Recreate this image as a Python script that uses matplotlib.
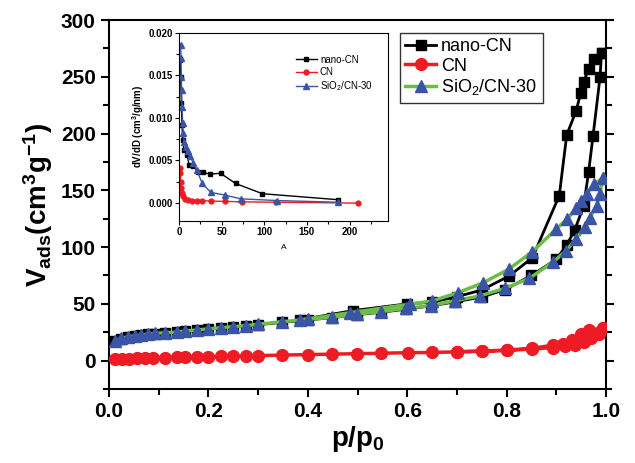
import matplotlib
matplotlib.use("Agg")
import matplotlib.pyplot as plt
from matplotlib.ticker import MultipleLocator

plt.rcParams["font.family"] = ["Liberation Sans", "DejaVu Sans"]
plt.rcParams["mathtext.fontset"] = "custom"
plt.rcParams["mathtext.rm"] = "Liberation Sans"
plt.rcParams["mathtext.bf"] = "Liberation Sans:bold"
plt.rcParams["mathtext.it"] = "Liberation Sans:italic"

RED = "#ed1c24"
BLUE = "#3a55a6"
GREEN = "#6cbd45"

# --- main isotherms (adsorption then desorption) ---
nano_ads_x = [0.012, 0.025, 0.038, 0.052, 0.065, 0.079, 0.093, 0.113, 0.136, 0.153,
              0.177, 0.200, 0.225, 0.250, 0.275, 0.300, 0.349, 0.400, 0.449, 0.498,
              0.548, 0.597, 0.647, 0.697, 0.750, 0.797, 0.850, 0.900, 0.921, 0.937,
              0.955, 0.965, 0.974, 0.988, 0.991]
nano_ads_y = [17.0, 19.2, 20.6, 21.4, 22.3, 23.1, 23.8, 24.4, 25.0, 25.8,
              26.8, 27.7, 28.7, 29.6, 30.5, 31.6, 33.8, 35.9, 37.8, 40.5,
              42.6, 45.3, 48.2, 51.8, 56.0, 62.5, 75.0, 89.2, 101.8, 115.0,
              136.0, 166.0, 198.0, 249.6, 270.7]
nano_des_x = [0.991, 0.975, 0.965, 0.955, 0.949, 0.940, 0.921, 0.906, 0.852, 0.805,
              0.750, 0.700, 0.650, 0.600, 0.490, 0.385]
nano_des_y = [270.7, 266.0, 256.6, 245.7, 235.5, 220.0, 198.8, 145.3, 90.7, 74.5,
              62.2, 56.3, 51.5, 50.0, 44.0, 36.0]

cn_ads_x = [0.012, 0.026, 0.041, 0.056, 0.072, 0.089, 0.113, 0.136, 0.153, 0.177,
            0.200, 0.225, 0.250, 0.275, 0.300, 0.349, 0.401, 0.449, 0.498, 0.548,
            0.602, 0.649, 0.700, 0.750, 0.800, 0.851, 0.893, 0.917, 0.937, 0.955,
            0.970, 0.985, 0.993]
cn_ads_y = [1.4, 1.6, 1.8, 2.0, 2.2, 2.4, 2.6, 2.9, 3.1, 3.3,
            3.5, 3.7, 4.0, 4.2, 4.4, 4.9, 5.3, 5.7, 6.1, 6.5,
            7.0, 7.2, 7.7, 8.2, 9.0, 10.2, 11.5, 12.5, 14.0, 16.5,
            19.5, 23.5, 28.8]
cn_des_x = [0.993, 0.966, 0.950, 0.931, 0.913, 0.893, 0.851, 0.800, 0.750, 0.700]
cn_des_y = [28.8, 26.8, 23.2, 18.6, 15.0, 13.6, 10.8, 9.3, 8.4, 7.9]

si_ads_x = [0.012, 0.025, 0.038, 0.052, 0.065, 0.079, 0.093, 0.113, 0.136, 0.153,
            0.177, 0.200, 0.225, 0.250, 0.275, 0.300, 0.349, 0.400, 0.449, 0.498,
            0.548, 0.597, 0.647, 0.697, 0.746, 0.797, 0.846, 0.894, 0.920, 0.939,
            0.958, 0.968, 0.981, 0.988, 0.993]
si_ads_y = [17.5, 19.6, 21.0, 21.7, 22.5, 23.4, 24.0, 24.6, 25.0, 26.0,
            27.0, 27.9, 29.0, 29.9, 30.8, 32.0, 34.3, 36.4, 38.1, 41.0,
            43.1, 46.0, 48.5, 52.8, 57.0, 63.7, 72.5, 87.0, 96.8, 106.9,
            118.0, 126.0, 136.0, 146.8, 160.6]
si_des_x = [0.993, 0.976, 0.961, 0.949, 0.940, 0.922, 0.900, 0.852, 0.804, 0.753,
            0.703, 0.650, 0.606, 0.485, 0.384]
si_des_y = [160.6, 155.6, 146.8, 140.9, 134.2, 124.8, 116.0, 96.0, 80.4, 68.6,
            60.0, 52.5, 49.8, 42.2, 35.8]

# --- inset: pore size distribution ---
nano_d = [1.2, 2.0, 2.7, 3.5, 4.3, 5.8, 9.0, 12.0, 16.8, 22.6, 28.5, 36.3, 48.7, 66.3, 97.9, 186.4]
nano_dv = [0.0168, 0.0148, 0.0117, 0.0092, 0.0074, 0.00625, 0.0057, 0.0045, 0.0043, 0.0037,
           0.0036, 0.0034, 0.0035, 0.0023, 0.0011, 0.0004]
cn_d = [1.2, 1.6, 2.0, 2.3, 3.1, 4.3, 7.0, 10.9, 14.8, 20.7, 27.3, 37.4, 53.8, 73.3, 113.5, 209.7]
cn_dv = [0.0041, 0.0035, 0.0025, 0.0018, 0.0012, 0.0008, 0.0005, 0.0004, 0.0003, 0.0003,
         0.0003, 0.00023, 0.0002, 0.00015, 0.0001, 0.0]
si_d = [2.0, 2.3, 2.7, 3.1, 3.5, 4.3, 5.0, 6.2, 7.8, 10.0, 12.9, 16.8, 20.7, 27.3, 37.4,
        53.8, 72.5, 115.0, 187.0]
si_dv = [0.0186, 0.0170, 0.0148, 0.0133, 0.0113, 0.0094, 0.0082, 0.0072, 0.0066, 0.0061,
         0.0055, 0.0047, 0.0039, 0.0023, 0.00125, 0.00094, 0.0005, 0.0003, 0.0001]

fig = plt.figure(figsize=(6.35, 4.63), dpi=100)
ax = fig.add_axes([0.1717, 0.1598, 0.7826, 0.797])

ax.plot(nano_ads_x + nano_des_x, nano_ads_y + nano_des_y, "-s", color="black",
        lw=2, ms=7, mfc="black", mec="black", label="nano-CN", zorder=3)
ax.plot(cn_ads_x + cn_des_x, cn_ads_y + cn_des_y, "-o", color=RED,
        lw=2.5, ms=8.5, mfc=RED, mec=RED, label="CN", zorder=3)
ax.plot(si_ads_x + si_des_x, si_ads_y + si_des_y, "-^", color=GREEN,
        lw=2.5, ms=9, mfc=BLUE, mec=BLUE, label="SiO$_2$/CN-30", zorder=4)

ax.set_xlim(0, 1.0)
ax.set_ylim(-25, 300)
ax.xaxis.set_major_locator(MultipleLocator(0.2))
ax.xaxis.set_minor_locator(MultipleLocator(0.1))
ax.yaxis.set_major_locator(MultipleLocator(50))
ax.yaxis.set_minor_locator(MultipleLocator(25))
ax.set_xticks([0, 0.2, 0.4, 0.6, 0.8, 1.0])
ax.set_xticklabels(["0.0", "0.2", "0.4", "0.6", "0.8", "1.0"])
for s in ax.spines.values():
    s.set_linewidth(1.5)
ax.tick_params(which="both", direction="out", width=1.5, labelsize=15, right=True)
ax.tick_params(which="major", length=6)
ax.tick_params(which="minor", length=4)
for lab in ax.get_xticklabels() + ax.get_yticklabels():
    lab.set_fontweight("bold")
ax.set_xlabel(r"$\mathbf{p/p_0}$", fontsize=20, labelpad=2)
ax.set_ylabel(r"$\mathbf{V_{ads}(cm^3g^{-1})}$", fontsize=20, labelpad=4)

leg = ax.legend(loc="upper left", bbox_to_anchor=(0.585, 0.966), fontsize=13,
                frameon=True, fancybox=False, edgecolor="black",
                handlelength=1.7, handletextpad=0.3, labelspacing=0.15,
                borderpad=0.3, borderaxespad=0)
leg.get_frame().set_linewidth(1.0)

# inset
ins = fig.add_axes([0.2819, 0.5227, 0.329, 0.4067])
ins.plot(nano_d, nano_dv, "-s", color="black", lw=1, ms=3.5, label="nano-CN")
ins.plot(cn_d, cn_dv, "-o", color=RED, lw=1, ms=3.5, label="CN")
ins.plot(si_d, si_dv, "-^", color=BLUE, lw=1, ms=4, label="SiO$_2$/CN-30")
ins.set_xlim(0, 245)
ins.set_ylim(-0.0021, 0.020)
ins.xaxis.set_major_locator(MultipleLocator(50))
ins.xaxis.set_minor_locator(MultipleLocator(25))
ins.yaxis.set_major_locator(MultipleLocator(0.005))
ins.yaxis.set_minor_locator(MultipleLocator(0.0025))
ins.set_yticks([0.0, 0.005, 0.010, 0.015, 0.020])
ins.set_yticklabels(["0.000", "0.005", "0.010", "0.015", "0.020"])
ins.tick_params(which="both", direction="out", width=0.8, labelsize=7, pad=1.5)
ins.tick_params(which="major", length=3)
ins.tick_params(which="minor", length=2)
for s in ins.spines.values():
    s.set_linewidth(0.8)
for lab in ins.get_xticklabels() + ins.get_yticklabels():
    lab.set_fontweight("bold")
ins.set_ylabel(r"$\mathbf{dV/dD\ (cm^3/g/nm)}$", fontsize=7, labelpad=2)
ins.set_xlabel("A", fontsize=6, labelpad=5)
ins.legend(loc="upper right", bbox_to_anchor=(0.97, 0.93), fontsize=7, frameon=False,
           handlelength=2.2, handletextpad=0.3, labelspacing=0.25)

fig.savefig("out.png", dpi=100)
